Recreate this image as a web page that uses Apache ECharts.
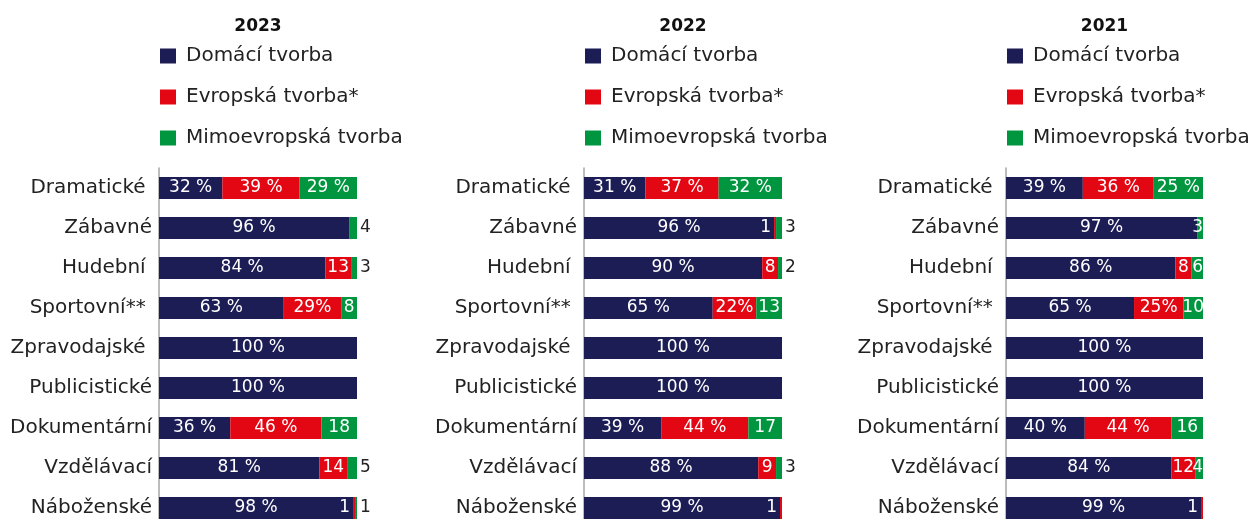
<!DOCTYPE html>
<html>
<head>
<meta charset="utf-8">
<title>Podíl tvorby podle žánrů</title>
<script src="https://cdn.jsdelivr.net/npm/echarts@6/dist/echarts.min.js"></script>
<style>
  html, body { margin: 0; padding: 0; background: #ffffff; overflow: hidden; }
  #chart { width: 1251px; height: 528px; }
</style>
</head>
<body>
<div id="chart"></div>
<script>
// Genre categories (top to bottom)
const categories = ['Dramatické', 'Zábavné', 'Hudební', 'Sportovní**', 'Zpravodajské',
                    'Publicistické', 'Dokumentární', 'Vzdělávací', 'Náboženské'];

const seriesNames = ['Domácí tvorba', 'Evropská tvorba*', 'Mimoevropská tvorba'];

const years = ['2023', '2022', '2021'];

// Shares in percent, per year
const domaci2023 = [32, 96, 84, 63, 100, 100, 36, 81, 98];
const evropska2023 = [39, 0, 13, 29, 0, 0, 46, 14, 1];
const mimo2023 = [29, 4, 3, 8, 0, 0, 18, 5, 1];

const domaci2022 = [31, 96, 90, 65, 100, 100, 39, 88, 99];
const evropska2022 = [37, 1, 8, 22, 0, 0, 44, 9, 1];
const mimo2022 = [32, 3, 2, 13, 0, 0, 17, 3, 0];

const domaci2021 = [39, 97, 86, 65, 100, 100, 40, 84, 99];
const evropska2021 = [36, 0, 8, 25, 0, 0, 44, 12, 1];
const mimo2021 = [25, 3, 6, 10, 0, 0, 16, 4, 0];

const yearData = [
  [domaci2023, evropska2023, mimo2023],
  [domaci2022, evropska2022, mimo2022],
  [domaci2021, evropska2021, mimo2021]
];

// ---- presentation ----
const FONT = 'DejaVu Sans';
const COLORS = ['#1d1d56', '#e30613', '#00963f'];
const TEXT_DARK = '#222222';

const panels = [
  { left: 159, width: 198, smallGreenOutside: true },
  { left: 584, width: 198, smallGreenOutside: true },
  { left: 1006, width: 197, smallGreenOutside: false }
];
const GRID_TOP = 168;
const GRID_BOTTOM = 0;

// labels drawn with a little extra room on the right
const paddedNames = new Set(['Dramatické', 'Hudební', 'Sportovní**', 'Zpravodajské']);
// rows where the European share is written without the space before %
const tightPercentRows = new Set(['Sportovní**']);

function labelFor(kind, v, cat, panel) {
  if (!v) return { show: false };
  const base = { show: true, color: '#ffffff', fontFamily: FONT, fontSize: 17 };
  if (v >= 20) {
    const sep = (kind === 1 && tightPercentRows.has(cat)) ? '' : ' ';
    return Object.assign(base, { position: 'inside', formatter: v + sep + '%' });
  }
  if (kind === 1 && v <= 2) {
    return Object.assign(base, { position: 'left', distance: 3, formatter: String(v) });
  }
  if (kind === 2 && v <= 6) {
    if (panel.smallGreenOutside) {
      return Object.assign(base, { position: 'right', distance: 3, color: TEXT_DARK, formatter: String(v) });
    }
    return Object.assign(base, { position: 'insideRight', distance: 0, formatter: String(v) });
  }
  return Object.assign(base, { position: 'inside', formatter: String(v) });
}

const option = {
  animation: false,
  backgroundColor: '#ffffff',
  title: [], legend: [], grid: [], xAxis: [], yAxis: [], series: []
};

panels.forEach((p, i) => {
  option.title.push({
    text: years[i],
    left: p.left + p.width / 2,
    top: 18,
    textAlign: 'center',
    padding: 0,
    textStyle: { fontFamily: FONT, fontSize: 17, fontWeight: 'bold', color: '#111111' }
  });
  option.legend.push({
    orient: 'vertical',
    left: p.left + 1,
    top: 46,
    padding: 0,
    itemWidth: 16,
    itemHeight: 15,
    itemGap: 21,
    icon: 'rect',
    selectedMode: false,
    data: seriesNames,
    textStyle: { fontFamily: FONT, fontSize: 20, color: TEXT_DARK, padding: [0, 0, 0, 5] }
  });
  option.grid.push({ left: p.left, top: GRID_TOP, width: p.width, bottom: GRID_BOTTOM });
  option.xAxis.push({
    type: 'value', gridIndex: i, min: 0, max: 100,
    show: false, splitLine: { show: false }
  });
  option.yAxis.push({
    type: 'category', gridIndex: i, data: categories, inverse: true,
    axisTick: { show: false },
    axisLine: { show: true, lineStyle: { color: '#a6a6a6', width: 1.5 } },
    axisLabel: {
      fontFamily: FONT, fontSize: 20, color: TEXT_DARK, margin: 7,
      padding: [8, 0, 0, 0],
      formatter: name => paddedNames.has(name) ? name + ' ' : name
    }
  });
  yearData[i].forEach((values, k) => {
    option.series.push({
      type: 'bar',
      name: seriesNames[k],
      xAxisIndex: i, yAxisIndex: i,
      stack: 'share' + i,
      barWidth: 22,
      itemStyle: { color: COLORS[k] },
      data: values.map((v, r) => ({ value: v, label: labelFor(k, v, categories[r], p) }))
    });
  });
});

const chart = echarts.init(document.getElementById('chart'), null, { renderer: 'canvas' });
chart.setOption(option);
</script>
</body>
</html>
